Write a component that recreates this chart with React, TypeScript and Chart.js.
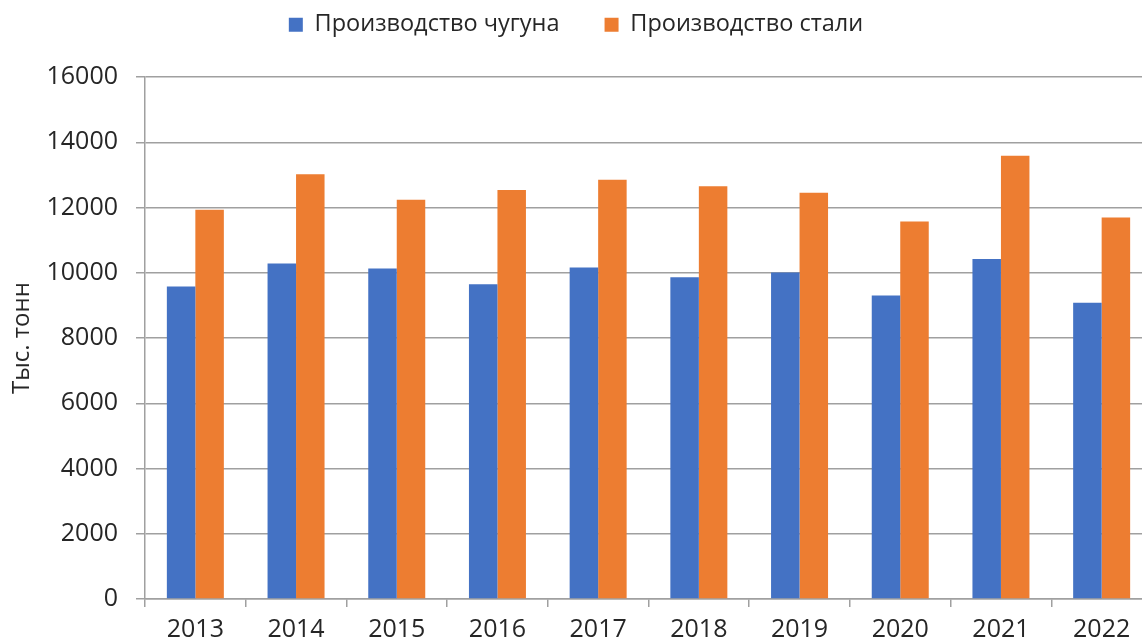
import React, { useEffect, useRef } from "react";
import { Chart, registerables } from "chart.js";

Chart.register(...registerables);

const years = ["2013", "2014", "2015", "2016", "2017", "2018", "2019", "2020", "2021", "2022"];
const pigIron = [9580, 10280, 10130, 9650, 10160, 9860, 10010, 9300, 10420, 9080];
const steel = [11930, 13020, 12240, 12540, 12850, 12650, 12450, 11570, 13590, 11690];
const seriesNames = ["Производство чугуна", "Производство стали"];
const seriesColors = ["#4472C4", "#ED7D31"];
const yAxisTitle = "Тыс. тонн";
const yMin = 0;
const yMax = 16000;
const yStep = 2000;

export default function App() {
  const ref = useRef<HTMLCanvasElement>(null);

  useEffect(() => {
    document.body.style.margin = "0";
    const canvas = ref.current;
    if (!canvas) return;

    const legendSpacing = {
      id: "legendSpacing",
      beforeInit(chart: any) {
        const legend = chart.legend;
        if (!legend) return;
        const orig = legend.fit;
        legend.fit = function () {
          orig.call(this);
          this.height = 109;
        };
      },
    };

    const gridColor = "#a0a0a0";
    const textColor = "#262626";

    const chart = new Chart(canvas, {
      type: "bar",
      data: {
        labels: years,
        datasets: [
          {
            label: seriesNames[0],
            data: pigIron,
            backgroundColor: seriesColors[0],
            borderWidth: 0,
            barPercentage: 1,
            categoryPercentage: 0.566,
          },
          {
            label: seriesNames[1],
            data: steel,
            backgroundColor: seriesColors[1],
            borderWidth: 0,
            barPercentage: 1,
            categoryPercentage: 0.566,
          },
        ],
      },
      options: {
        responsive: false,
        animation: false,
        devicePixelRatio: 1,
        layout: { padding: { top: -32, left: 0, right: 8, bottom: 0 } },
        plugins: {
          legend: {
            position: "top",
            align: "center",
            labels: {
              boxWidth: 14,
              boxHeight: 14,
              padding: 45,
              color: textColor,
              font: { family: "'Open Sans', sans-serif", size: 23.5 },
            },
          },
          tooltip: { enabled: false },
        },
        scales: {
          x: {
            grid: {
              display: true,
              drawOnChartArea: false,
              drawTicks: true,
              tickLength: 8,
              color: gridColor,
              lineWidth: 1.5,
              offset: true,
            },
            border: { display: true, color: gridColor, width: 1.5 },
            ticks: {
              color: textColor,
              padding: 8,
              font: { family: "'Open Sans', sans-serif", size: 25 },
              maxRotation: 0,
            },
            afterFit(scale: any) {
              scale.height = 44;
            },
          },
          y: {
            min: yMin,
            max: yMax,
            ticks: {
              stepSize: yStep,
              color: textColor,
              padding: 18,
              font: { family: "'Open Sans', sans-serif", size: 25 },
              callback: (value: any) => String(value),
            },
            grid: {
              color: gridColor,
              lineWidth: 1.5,
              tickLength: 9,
              drawTicks: true,
            },
            border: { display: true, color: gridColor, width: 1.5 },
            title: {
              display: true,
              text: yAxisTitle,
              color: textColor,
              padding: { top: 8, bottom: 0 },
              font: { family: "'Open Sans', sans-serif", size: 24 },
            },
            afterFit(scale: any) {
              scale.width = 145;
            },
          },
        },
      },
      plugins: [legendSpacing],
    });

    return () => chart.destroy();
  }, []);

  return (
    <div style={{ width: 1142, height: 643, overflow: "hidden", background: "#fff" }}>
      <canvas ref={ref} width={1160} height={643} style={{ display: "block" }} />
    </div>
  );
}
